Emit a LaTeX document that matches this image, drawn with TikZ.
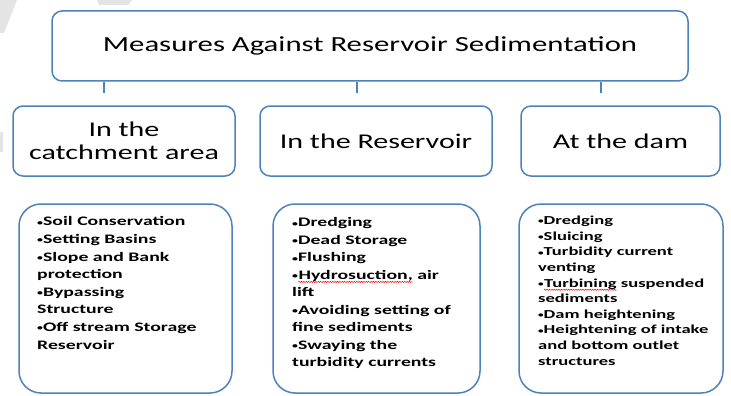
\documentclass[tikz,border=0pt]{standalone}
\usepackage{fontspec}
\usepackage{graphicx}
\usetikzlibrary{decorations.pathmorphing}
\setmainfont{Carlito}[FakeStretch=1.43]
\newfontfamily\bodyfont{Carlito}[FakeStretch=1.52]
\definecolor{boxblue}{RGB}{79,129,189}
\definecolor{ghost}{RGB}{228,228,228}
\newcommand{\bul}{\raisebox{0.8pt}{\scalebox{0.6}{\textbullet}}}
\newsavebox{\wavebox}
\newcommand{\redwave}[1]{\sbox{\wavebox}{#1}%
  \tikz[baseline=0pt]{\node[inner sep=0pt,anchor=base west] (wv) at (0pt,0pt) {\usebox{\wavebox}};
  \draw[red,line width=0.5pt,decorate,decoration={snake,amplitude=0.6pt,segment length=2.4pt}]
    (0pt,-2.6pt) -- (\wd\wavebox,-2.6pt);}}
\begin{document}
\begin{tikzpicture}[x=1pt,y=-1pt,
  box/.style={draw=boxblue,line width=1.5pt,fill=white,inner sep=0pt},
  topbox/.style={box,rounded corners=10pt,minimum width=636pt,minimum height=70pt,
     font=\fontsize{21.5}{24}\selectfont},
  headbox/.style={box,rounded corners=10pt,minimum height=70pt,align=center,
     font=\fontsize{21}{23}\selectfont},
  listbox/.style={box,rounded corners=22pt,minimum height=189pt},
  listtext/.style={anchor=north west,inner sep=0pt,align=left,
     font=\bodyfont\bfseries\fontsize{13}{17.6}\selectfont},
  tick/.style={draw=boxblue,line width=1.5pt}]
\useasboundingbox (0,0) rectangle (731,396);
\fill[white] (0,0) rectangle (731,396);
% faint screenshot artifacts
\fill[ghost] (0,0) -- (17,0) -- (4,33) -- (0,33) -- cycle;
\fill[ghost] (97,0) -- (132,0) -- (128,5) -- (99,5) -- cycle;
\fill[ghost] (0,132) rectangle (3,152);
% top
\node[topbox] (top) at (370,46) {Measures Against Reservoir Sedimentation};
% heads
\node[headbox,minimum width=222pt] (h1) at (124,141) {In the\\catchment area};
\node[headbox,minimum width=232pt] (h2) at (376,141) {In the Reservoir};
\node[headbox,minimum width=199pt] (h3) at (620.5,141) {At the dam};
% ticks
\coordinate (t1) at (104,93);
\coordinate (t2) at (357,93);
\coordinate (t3) at (601,93);
\draw[tick] (top.south -| t1) -- (t1);
\draw[tick] (top.south -| t2) -- (t2);
\draw[tick] (top.south -| t3) -- (t3);
% list boxes
\node[listbox,minimum width=213pt] (b1) at (125.5,298.5) {};
\node[listbox,minimum width=207pt] (b2) at (376.5,298.5) {};
\node[listbox,minimum width=204pt] (b3) at (621,298.5) {};
\node[listtext] (l1) at (37,216.5) {%
\bul Soil Conservation\\
\bul Setting Basins\\
\bul Slope and Bank\\
protection\\
\bul Bypassing\\
Structure\\
\bul Off stream Storage\\
Reservoir};
\node[listtext,font=\bodyfont\bfseries\fontsize{13}{17.5}\selectfont] (l2) at (292,217.5) {%
\bul Dredging\\
\bul Dead Storage\\
\bul Flushing\\
\bul \redwave{Hydrosuction,} air\\
lift\\
\bul Avoiding setting of\\
fine sediments\\
\bul Swaying the\\
turbidity currents};
\node[listtext,font=\bodyfont\bfseries\fontsize{12.2}{15.6}\selectfont] (l3) at (538,216) {%
\bul Dredging\\
\bul Sluicing\\
\bul Turbidity current\\
venting\\
\bul \redwave{Turbining} suspended\\
sediments\\
\bul Dam heightening\\
\bul Heightening of intake\\
and bottom outlet\\
structures};
\end{tikzpicture}
\end{document}
